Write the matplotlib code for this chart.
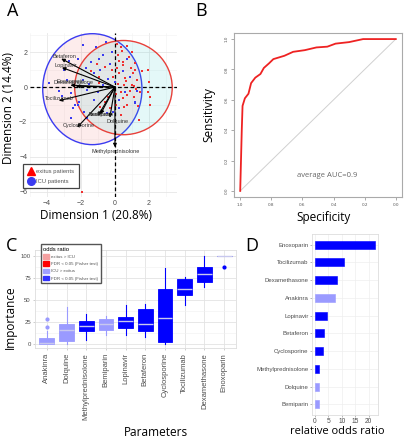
import numpy as np
import matplotlib
matplotlib.use("Agg")
from matplotlib import pyplot as plt
from matplotlib.patches import Ellipse, Patch
from matplotlib.lines import Line2D

# ---- panel A: PCA ----
red_x = [0.13, 0.4, 0.17, 0.5, 0.45, 0.73, 1.0, 1.18, 1.07, 0.26, 0.55, 1.0, 1.15, 1.96, 2.0, 1.92,
         2.05, 0.36, 0.45, 1.11, 1.34, 0.73, 0.07, -1.06, -0.58, -0.96, -0.58, -0.4, -0.96, -0.86,
         0.55, 2.05, 1.4, 0.36, -1.96, 0.25, 0.8, 0.6, 0.9, 1.3, 1.5, 0.2, -0.2, 0.05, 1.2, 0.7,
         -0.3, 1.6, 0.35, -1.4, 0.95, 1.25, 0.15, -0.1, 0.65]
red_y = [2.48, 2.06, 1.82, 1.44, 1.25, 2.33, 2.0, 1.38, 0.83, 0.78, 0.11, 0.1, 0.06, 0.97, 0.3, -0.27,
         -0.55, -0.27, -0.64, -0.55, -1.08, -1.02, -1.02, 1.35, 1.15, 0.21, -0.84, -0.55, 0.6, -1.12,
         -1.12, -1.02, -1.88, -1.6, -6.04, 1.5, 1.7, 0.5, -0.2, 0.4, -0.3, 0.2, 1.0, -0.4, 1.0, -0.45,
         -1.2, 0.9, 2.3, 0.9, 1.1, -0.1, 1.1, 0.6, 0.35]
blue_x = [-1.9, -2.19, -1.43, -0.96, -0.68, -0.86, -1.24, -0.4, -1.9, -1.62, -2.56, -2.09, -1.24,
          -2.37, -3.88, -2.47, -2.19, -2.56, -1.62, -1.8, -0.49, 1.2, 0.7, 0.26, 1.2, 0.26, -0.02,
          -0.2, -0.5, -3.0, -2.8, -3.3, -1.0, -0.7, 0.9, 1.3, -1.5, -2.7, -0.1, 0.6, -1.1, -3.1,
          -0.3, 0.45, -1.7]
blue_y = [2.39, 1.63, 1.44, 1.63, 1.82, 0.97, 0.78, 0.49, 0.4, -0.17, -0.36, -0.84, -0.74, -1.02,
          0.21, -1.21, -1.02, -1.78, -1.78, -1.4, -1.5, -0.93, 1.63, -0.74, -0.83, -1.2, 0.3,
          2.0, 2.6, 1.0, 0.4, -0.2, -0.3, 0.1, 0.6, -0.2, 0.2, 1.5, -1.4, -0.3, 2.3, -0.5,
          1.3, 0.9, 1.1]
var_names = ["Betaferon", "Lopinavir", "Enoxoparin", "Dexamethasone", "Tocilizumab",
             "Cyclosporine", "Anakinra", "Bemiparin", "Dolquine", "Methylprednisolone"]
var_x = [-3.16, -3.12, -2.62, -2.3, -3.3, -2.22, -1.0, -0.85, -0.3, 0.0]
var_y = [1.63, 1.12, 0.11, 0.05, -0.78, -2.31, -1.65, -1.55, -1.75, -3.45]
lab_x = [-3.0, -2.88, -2.6, -2.45, -3.28, -2.15, -0.96, -0.8, 0.15, 0.05]
lab_y = [1.76, 1.25, 0.3, 0.28, -0.68, -2.2, -1.6, -1.55, -1.97, -3.68]

# ---- panel B: ROC ----
specificity = [1.0, 0.995, 0.99, 0.985, 0.97, 0.947, 0.93, 0.903, 0.87, 0.848, 0.815, 0.787,
               0.716, 0.66, 0.585, 0.51, 0.44, 0.387, 0.3, 0.21, 0.1, 0.0]
sensitivity = [0.0, 0.2, 0.4, 0.56, 0.61, 0.64, 0.71, 0.746, 0.77, 0.81, 0.84, 0.868,
               0.89, 0.916, 0.927, 0.945, 0.95, 0.97, 0.98, 1.0, 1.0, 1.0]

# ---- panel C: importance boxplots ----
params = ["Anakinra", "Dolquine", "Methylprednisolone", "Bemiparin", "Lopinavir", "Betaferon",
          "Cyclosporine", "Tocilizumab", "Dexamethasone", "Enoxoparin"]
q1 = [0, 2.6, 14.7, 15.8, 17.7, 14, 1.5, 55.5, 70, 100]
med = [1, 15.8, 19.6, 22.3, 25.3, 22.6, 29.8, 62.3, 80, 100]
q3 = [6.4, 22.6, 25.3, 28.3, 30.6, 40, 62, 73.6, 87.5, 100]
wlo = [0, 0, 3.8, 10, 10, 8, 0, 44, 65, 100]
whi = [14, 42, 34, 32, 43.8, 45, 86.4, 76, 99.6, 100]
fliers = [[27.9, 18.5], [], [], [], [], [], [], [], [], [87.5]]
significant = [False, False, True, False, True, True, True, True, True, True]

# ---- panel D: odds ratio ----
or_names = ["Enoxoparin", "Tocilizumab", "Dexamethasone", "Anakinra", "Lopinavir", "Betaferon",
            "Cyclosporine", "Methylprednisolone", "Dolquine", "Bemiparin"]
or_values = [22.2, 10.6, 8.05, 7.5, 4.3, 3.3, 3.0, 1.5, 1.4, 1.4]
or_signif = [True, True, True, False, True, True, True, True, False, False]

DARK = "#0000ff"
LIGHT = "#9a9aff"
TITLE_FONT = ["Open Sans", "DejaVu Sans"]
TICK_FONT = ["Liberation Sans", "DejaVu Sans"]
TICK_C = "#4d4d4d"

fig = plt.figure(figsize=(4.09, 4.40), dpi=100)

# ================= A =================
axA = fig.add_axes([0.0733, 0.5523, 0.3594, 0.3727])
axA.set_xlim(-4.63, 3.65)
axA.set_ylim(-6.3, 3.1)
axA.set_xticks([-4, -2, 0, 2])
axA.set_yticks([-6, -4, -2, 0, 2])
axA.set_xticks(np.arange(-5, 4, 2), minor=True)
axA.set_yticks(np.arange(-5, 4, 2), minor=True)
axA.grid(True, which="major", color="#e6e6e6", lw=0.6)
axA.grid(True, which="minor", color="#f2f2f2", lw=0.4)
axA.set_axisbelow(True)
for s in axA.spines.values():
    s.set_visible(False)
axA.tick_params(which="both", length=0, labelsize=5, labelcolor=TICK_C, pad=2)
for t in axA.get_xticklabels() + axA.get_yticklabels():
    t.set_family(TICK_FONT)

axA.add_patch(Ellipse((-1.33, -0.12), 5.84, 6.36, facecolor=(0.95, 0.45, 0.45, 0.13),
                      edgecolor="#3b3bf0", lw=1.0, zorder=1))
axA.add_patch(Ellipse((0.5, -0.03), 5.74, 5.4, facecolor=(0.2, 0.8, 0.8, 0.13),
                      edgecolor="#e8403a", lw=1.0, zorder=1))
axA.axhline(0, color="black", ls=(0, (3, 2)), lw=0.9, zorder=2)
axA.axvline(0, color="black", ls=(0, (3, 2)), lw=0.9, zorder=2)
axA.scatter(red_x, red_y, s=2.5, c="#f03030", marker="s", lw=0, zorder=3)
axA.scatter(blue_x, blue_y, s=2.5, c="#3b3bf0", marker="s", lw=0, zorder=3)
for n, vx, vy, lx, ly in zip(var_names, var_x, var_y, lab_x, lab_y):
    axA.annotate("", xy=(vx, vy), xytext=(0, 0),
                 arrowprops=dict(arrowstyle="-|>", color="black", lw=0.8,
                                 mutation_scale=5, shrinkA=0, shrinkB=0), zorder=4)
    axA.text(lx, ly, n, fontsize=4, color="#333333", ha="center", va="center",
             family=TICK_FONT, zorder=5)

handles = [Line2D([], [], marker="^", ls="", color="#ff0000", markersize=5.5),
           Line2D([], [], marker="o", ls="", color="#3b3bf0", markersize=5.5)]
legA = axA.legend(handles, ["exitus patients", "ICU patients"], loc="lower left",
                  bbox_to_anchor=(-0.048, 0.055), borderaxespad=0, fancybox=False,
                  edgecolor="#444444", prop={"size": 4.2, "family": TICK_FONT},
                  handlelength=1.2, handletextpad=0.4, borderpad=0.7, labelspacing=0.9,
                  framealpha=1)
legA.get_frame().set_linewidth(0.9)
for t in legA.get_texts():
    t.set_color("#555555")
axA.set_xlabel("Dimension 1 (20.8%)", fontsize=8.5, family=TITLE_FONT)
axA.xaxis.set_label_coords(0.45, -0.075)
axA.set_ylabel("Dimension 2 (14.4%)", fontsize=8.5, family=TITLE_FONT)
axA.yaxis.set_label_coords(-0.10, 0.54)

# ================= B =================
axB = fig.add_axes([0.5721, 0.5523, 0.4108, 0.3727])
axB.set_xlim(1.04, -0.04)
axB.set_ylim(-0.04, 1.04)
axB.plot([1, 0], [0, 1], color="#d0d0d0", lw=0.7)
axB.plot(specificity, sensitivity, color="#ee2222", lw=1.3)
axB.text(0.44, 0.1, "average AUC=0.9", fontsize=5.5, color="#666666", ha="center",
         va="center", family=TITLE_FONT)
axB.set_xticks([1.0, 0.8, 0.6, 0.4, 0.2, 0.0])
axB.set_yticks([0.0, 0.2, 0.4, 0.6, 0.8, 1.0])
axB.set_xticklabels(["1.0", "0.8", "0.6", "0.4", "0.2", "0.0"])
axB.set_yticklabels(["0.0", "0.2", "0.4", "0.6", "0.8", "1.0"], rotation=90, va="center")
axB.tick_params(labelsize=3, labelcolor="#555555", color="#888888", length=2, width=0.5, pad=2)
for s in axB.spines.values():
    s.set_color("#aaaaaa")
    s.set_linewidth(0.8)
axB.set_xlabel("Specificity", fontsize=8.5, family=TITLE_FONT)
axB.xaxis.set_label_coords(0.53, -0.085)
axB.set_ylabel("Sensitivity", fontsize=8.5, family=TITLE_FONT)
axB.yaxis.set_label_coords(-0.113, 0.5)

# ================= C =================
axC = fig.add_axes([0.0856, 0.2091, 0.4914, 0.2227])
stats = []
for i in range(len(params)):
    stats.append(dict(q1=q1[i], med=med[i], q3=q3[i], whislo=wlo[i], whishi=whi[i],
                      fliers=fliers[i]))
pos = np.arange(1, len(params) + 1)
bp = axC.bxp(stats, positions=pos, widths=0.75, patch_artist=True, showfliers=True)
for i in range(len(params)):
    col = DARK if significant[i] else LIGHT
    bp["boxes"][i].set(facecolor=col, edgecolor=col, lw=0.6)
    bp["medians"][i].set(color="#c8c8ee", lw=1.0)
    for w in bp["whiskers"][2 * i:2 * i + 2]:
        w.set(color=col, lw=0.8)
    for c in bp["caps"][2 * i:2 * i + 2]:
        c.set(visible=False)
    bp["fliers"][i].set(marker="o", markerfacecolor=col, markeredgecolor=col, markersize=2)
axC.set_xlim(0.4, 10.6)
axC.set_ylim(-5, 107)
axC.set_yticks([0, 25, 50, 75, 100])
axC.set_yticks([12.5, 37.5, 62.5, 87.5], minor=True)
axC.set_xticks(pos)
axC.set_xticklabels(params, rotation=90, family=TICK_FONT)
axC.grid(True, which="major", color="#e3e3e3", lw=0.6)
axC.grid(True, which="minor", axis="y", color="#f0f0f0", lw=0.4)
axC.set_axisbelow(True)
for s in axC.spines.values():
    s.set_color("#dddddd")
    s.set_linewidth(0.6)
axC.tick_params(axis="x", labelsize=5.5, labelcolor=TICK_C, color="#bbbbbb", length=1.5,
                width=0.5, pad=2)
axC.tick_params(axis="y", labelsize=4.3, labelcolor=TICK_C, color="#bbbbbb", length=1.5,
                width=0.5, pad=1.5)
axC.tick_params(which="minor", length=0)
for t in axC.get_yticklabels():
    t.set_family(TICK_FONT)
leg_handles = [Patch(color="#f5a0a0"), Patch(color="#ff0000"),
               Patch(color="#a0a0ff"), Patch(color="#3333ff")]
leg_labels = ["exitus > ICU", "FDR < 0.05 (Fisher test)", "ICU > exitus",
              "FDR < 0.05 (Fisher test)"]
legC = axC.legend(leg_handles, leg_labels, title="odds ratio", loc="upper left",
                  bbox_to_anchor=(0.028, 1.06), borderaxespad=0, fancybox=False,
                  edgecolor="#555555", prop={"size": 3.2, "family": TICK_FONT},
                  title_fontproperties={"size": 4.2, "family": TICK_FONT},
                  handlelength=1.2, handleheight=1.2, handletextpad=0.5, borderpad=0.6,
                  labelspacing=0.55, framealpha=1, alignment="left")
legC.get_frame().set_linewidth(1.0)
for t in legC.get_texts():
    t.set_color("#555555")
axC.set_xlabel("Parameters", fontsize=8.5, family=TITLE_FONT)
axC.xaxis.set_label_coords(0.6, -0.8)
axC.set_ylabel("Importance", fontsize=8.5, family=TITLE_FONT)
axC.yaxis.set_label_coords(-0.09, 0.31)

# ================= D =================
axD = fig.add_axes([0.7628, 0.0568, 0.1614, 0.4114])
ypos = np.arange(len(or_names))[::-1] + 1
cols = [DARK if s else LIGHT for s in or_signif]
axD.barh(ypos, or_values, height=0.45, color=cols, edgecolor=cols, lw=0.4)
axD.set_xlim(-1.1, 23.4)
axD.set_ylim(0.4, 10.6)
axD.set_yticks(ypos)
axD.set_yticklabels(or_names, family=TICK_FONT)
axD.set_xticks([0, 5, 10, 15, 20])
axD.grid(True, color="#eeeeee", lw=0.5)
axD.set_axisbelow(True)
for s in axD.spines.values():
    s.set_color("#dddddd")
    s.set_linewidth(0.6)
axD.tick_params(axis="y", labelsize=4.3, labelcolor=TICK_C, color="#999999", length=1.5,
                width=0.5, pad=1)
axD.tick_params(axis="x", labelsize=4.8, labelcolor=TICK_C, color="#999999", length=1.5,
                width=0.5, pad=1)
for t in axD.get_xticklabels():
    t.set_family(TICK_FONT)
axD.set_xlabel("relative odds ratio", fontsize=8, family=TITLE_FONT)
axD.xaxis.set_label_coords(0.39, -0.062)

# panel letters
for letter, px, py in [("A", 12.5, 11.5), ("B", 201, 11.5), ("C", 12, 246), ("D", 252, 246)]:
    fig.text(px / 409, 1 - py / 440, letter, fontsize=13, ha="center", va="center",
             family=TITLE_FONT)

fig.savefig("out.png", dpi=100, facecolor="white")
